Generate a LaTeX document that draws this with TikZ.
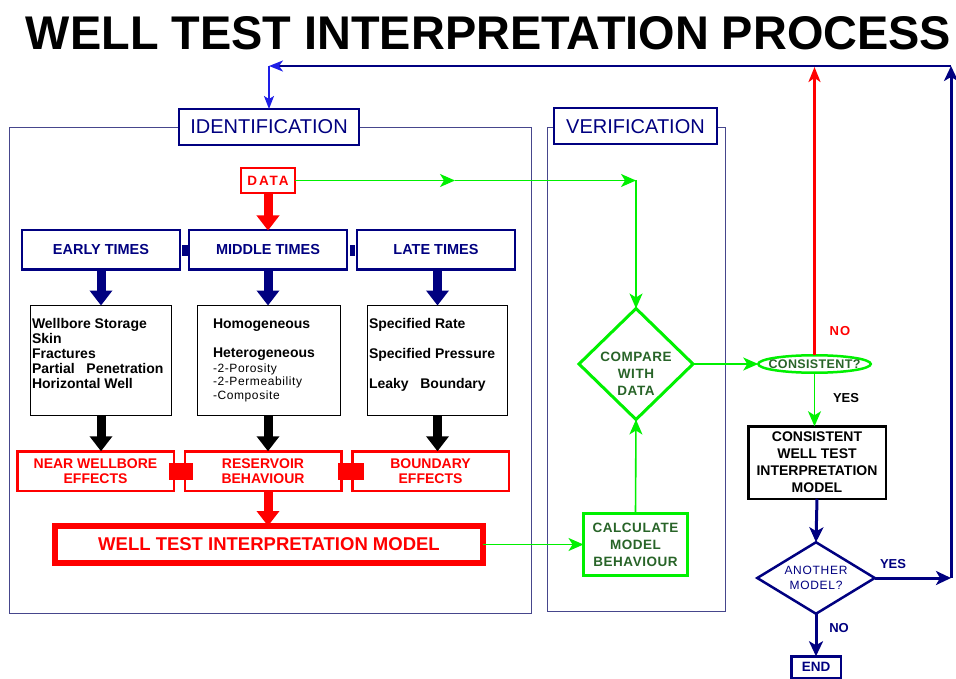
\documentclass[tikz,border=0pt]{standalone}
\usepackage{fontspec}
\setmainfont{Liberation Sans}
\usetikzlibrary{arrows.meta,shapes.geometric}

\definecolor{wtnavy}{RGB}{0,0,128}
\definecolor{wtblue}{RGB}{30,30,230}
\definecolor{wtred}{RGB}{255,0,0}
\definecolor{wtgreen}{RGB}{0,240,0}
\definecolor{wtdkgreen}{RGB}{40,100,40}
\definecolor{wtframe}{RGB}{70,70,140}

\begin{document}
\begin{tikzpicture}[x=1pt,y=-1pt,inner sep=0pt,outer sep=0pt,
  txt/.style={font=\bfseries\fontsize{13}{16}\selectfont},
  frame/.style={draw=wtframe,line width=1pt},
  headbox/.style={draw=wtnavy,line width=2pt,fill=white,text=wtnavy,
    font=\fontsize{20}{22}\selectfont,minimum height=36pt},
  timebox/.style={draw=wtnavy,line width=2pt,text=wtnavy,
    font=\bfseries\fontsize{14.5}{16}\selectfont,
    minimum width=158pt,minimum height=39pt},
  listbox/.style={draw=black,line width=1.2pt,minimum height=110pt},
  listtxt/.style={align=left,anchor=north west,
    font=\bfseries\fontsize{14}{15}\selectfont},
  effbox/.style={draw=wtred,line width=2.5pt,text=wtred,align=center,
    font=\bfseries\fontsize{14}{15.5}\selectfont,
    minimum width=156.5pt,minimum height=39.5pt},
  gtxt/.style={text=wtdkgreen,align=center,
    font=\bfseries\fontsize{13.5}{17}\selectfont\addfontfeature{LetterSpace=4}},
  blockarrow/.style={line width=9pt,-{Triangle[length=15pt,width=22pt]}},
  gline/.style={draw=wtgreen,line width=1.6pt,
    -{Stealth[length=15pt,width=13pt,inset=4pt]}},
  navyline/.style={draw=wtnavy,line width=3pt,
    -{Stealth[length=15pt,width=14pt,inset=4pt]}},
  redline/.style={draw=wtred,line width=2.5pt,
    -{Stealth[length=15pt,width=12pt,inset=4pt]}},
  blueline/.style={draw=wtblue,line width=1.4pt,
    -{Stealth[length=13pt,width=10pt,inset=3pt]}}
]
\useasboundingbox (0,0) rectangle (956,679);

% title
\node[font=\bfseries] (title) at (488.5,33.5)
  {\resizebox{925pt}{33pt}{WELL TEST INTERPRETATION PROCESS}};

% group frames
\draw[frame] (9,128) rectangle (531,613);
\draw[frame] (547,128) rectangle (725,611);

% group headers
\node[headbox,minimum width=180pt] (ident) at (269,127) {IDENTIFICATION};
\node[headbox,minimum width=163pt] (verif) at (635.5,126.5) {VERIFICATION};

% data source
\node[draw=wtred,line width=2pt,text=wtred,minimum width=54pt,minimum height=25pt,
  font=\bfseries\fontsize{13.5}{14}\selectfont\addfontfeature{LetterSpace=14}]
  (data) at (268,180.5) {DATA};

% time periods
\node[timebox] (early) at (101,250) {EARLY TIMES};
\node[timebox] (middle) at (268,250) {MIDDLE TIMES};
\node[timebox] (late) at (436,250) {LATE TIMES};
\node[fill=wtnavy,minimum width=6pt,minimum height=11pt] (lnkA) at (184.5,251) {};
\node[fill=wtnavy,minimum width=5pt,minimum height=11pt] (lnkB) at (352.5,251) {};

% model lists
\node[listbox,minimum width=140.8pt] (wb1) at (101,360.5) {};
\node[listbox,minimum width=142.8pt] (wb2) at (269,360.5) {};
\node[listbox,minimum width=139.8pt] (wb3) at (437.5,360.5) {};
\node[listtxt] (wb1t) at (32,318.5)
  {Wellbore Storage\\Skin\\Fractures\\Partial\ \ \ Penetration\\Horizontal Well};
\node[listtxt] (wb2t) at (213,318.5)
  {Homogeneous\\[14pt]Heterogeneous\\
   {\mdseries\fontsize{12}{13}\selectfont\addfontfeature{LetterSpace=5}-2-Porosity}\\[-2pt]
   {\mdseries\fontsize{12}{13}\selectfont\addfontfeature{LetterSpace=5}-2-Permeability}\\[-1pt]
   {\mdseries\fontsize{12}{13}\selectfont\addfontfeature{LetterSpace=5}-Composite}};
\node[listtxt] (wb3t) at (369,318.5)
  {Specified Rate\\[15pt]Specified Pressure\\[15pt]Leaky\ \ \ Boundary};

% effects
\node[effbox] (rb1) at (95.5,471) {NEAR WELLBORE\\EFFECTS};
\node[effbox] (rb2) at (263,471) {RESERVOIR\\BEHAVIOUR};
\node[effbox] (rb3) at (430.5,471) {BOUNDARY\\EFFECTS};
\node[fill=wtred,minimum width=24pt,minimum height=17pt] (sqA) at (181,471.5) {};
\node[fill=wtred,minimum width=26pt,minimum height=17pt] (sqB) at (351,471.5) {};

% interpretation model
\node[draw=wtred,line width=6pt,text=wtred,minimum width=428pt,minimum height=37pt,
  font=\bfseries\fontsize{18.5}{20}\selectfont] (wti) at (269,544.5)
  {WELL TEST INTERPRETATION MODEL};

% verification
\node[draw=wtgreen,line width=3pt,minimum width=104pt,minimum height=62pt,gtxt]
  (calc) at (635.5,544.5) {CALCULATE\\MODEL\\BEHAVIOUR};
\node[diamond,draw=wtgreen,line width=3pt,minimum width=114pt,minimum height=111pt]
  (cmp) at (636,364) {};
\node[gtxt] (cmpt) at (636,374) {COMPARE\\WITH\\DATA};
\node[ellipse,draw=wtgreen,line width=2.5pt,minimum width=112.5pt,minimum height=17.5pt,
  inner xsep=-14pt,inner ysep=0pt,text=wtdkgreen,
  font=\bfseries\fontsize{12.5}{15}\selectfont\addfontfeature{LetterSpace=3}]
  (ell) at (814.5,364) {CONSISTENT?};

% result branch
\node[draw=black,line width=2.5pt,minimum width=137.5pt,minimum height=72.5pt,
  align=center,font=\bfseries\fontsize{14}{17}\selectfont]
  (cons) at (817,462.5) {CONSISTENT\\WELL TEST\\INTERPRETATION\\MODEL};
\node[diamond,aspect=1.6,draw=wtnavy,line width=2.5pt,minimum width=117.5pt,
  minimum height=71.5pt,text=wtnavy,align=center,
  font=\fontsize{12}{15}\selectfont\addfontfeature{LetterSpace=6}]
  (anoth) at (816,578) {ANOTHER\\MODEL?};
\node[draw=wtnavy,line width=2.5pt,minimum width=49.5pt,minimum height=21.5pt,
  text=wtnavy,font=\bfseries\fontsize{13.5}{15}\selectfont] (end) at (816,667) {END};

% branch labels
\node[txt,text=wtred,font=\bfseries\fontsize{13}{15}\selectfont\addfontfeature{LetterSpace=8}]
  (nolbl) at (840,331) {NO};
\node[txt] (yeslbl) at (846,398) {YES};
\node[txt,text=wtnavy] (yes2) at (893,564) {YES};
\node[txt,text=wtnavy] (no2) at (839,628) {NO};

% loop corner points
\coordinate (gmid) at (455,180.5);
\coordinate (gcorner) at (636,180.5);
\coordinate (loopA) at (951,578);
\coordinate (loopB) at (951,66);
\coordinate (loopC) at (269,66);
\coordinate (topred) at (814.5,67);

% identification flow
\draw[blockarrow,wtred] (data.south) -- (middle.north);
\draw[blockarrow,wtnavy] (wb1.north |- early.south) -- (wb1.north);
\draw[blockarrow,wtnavy] (middle.south) -- (middle.south |- wb2.north);
\draw[blockarrow,wtnavy] (wb3.north |- late.south) -- (wb3.north);
\draw[blockarrow,black] (wb1.south) -- (wb1.south |- rb1.north);
\draw[blockarrow,black] (middle.south |- wb2.south) -- (middle.south |- rb2.north);
\draw[blockarrow,black] (wb3.south) -- (wb3.south |- rb3.north);
\draw[blockarrow,wtred] (middle.south |- rb2.south) -- (middle.south |- wti.north);

% verification flow
\draw[gline] (data.east) -- (gmid);
\draw[gline] (gmid) -- (gcorner);
\draw[gline] (gcorner) -- (cmp.north);
\draw[gline] (wti.east) -- (calc.west);
\draw[gline] (calc.north) -- (cmp.south);
\draw[gline] (cmp.east) -- (ell.west);
\draw[gline] (ell.south) -- (ell.south |- cons.north);
\draw[redline] (ell.north) -- (topred);

% iteration loop
\draw[navyline] (cons.south) -- (anoth.north);
\draw[navyline] (anoth.south) -- (end.north);
\draw[navyline] (anoth.east) -- (loopA);
\draw[navyline] (loopA) -- (loopB);
\draw[draw=wtnavy,line width=2.2pt,-{Stealth[length=14pt,width=11pt,inset=4pt,color=wtblue]}]
  (loopB) -- (loopC);
\draw[blueline] (loopC) -- (ident.north);
\end{tikzpicture}
\end{document}
